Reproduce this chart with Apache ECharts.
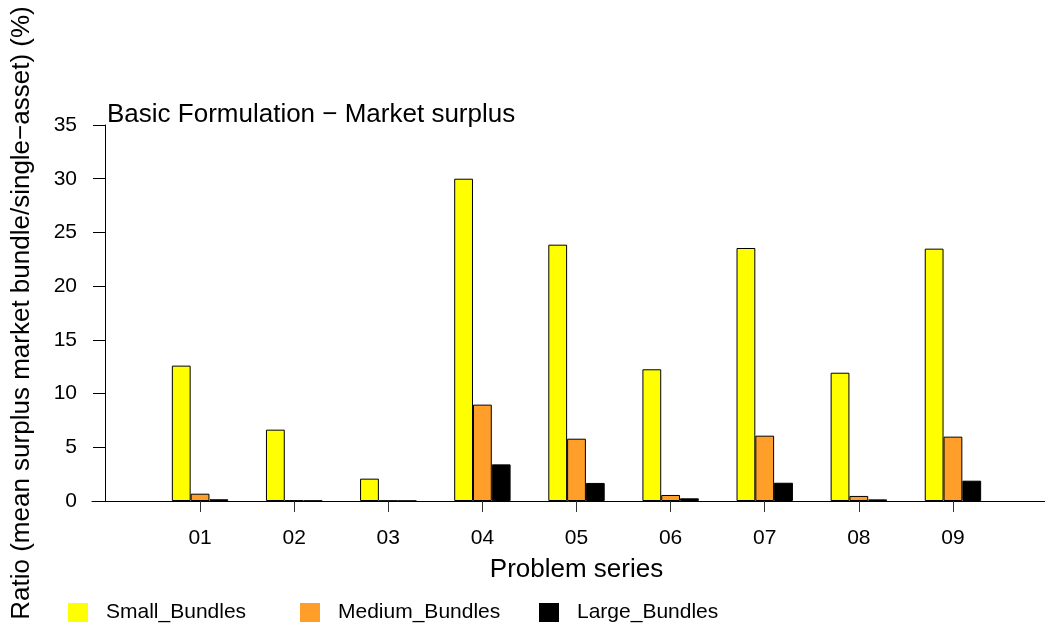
<!DOCTYPE html>
<html>
<head>
<meta charset="utf-8">
<script src="https://cdn.jsdelivr.net/npm/echarts@6/dist/echarts.min.js"></script>
<style>
  html, body { margin: 0; padding: 0; background: #fff; }
  #chart { width: 1045px; height: 632px; }
</style>
</head>
<body>
<div id="chart"></div>
<script>
// Problem series and mean surplus ratios (%) per bundle size
const categories = ['01', '02', '03', '04', '05', '06', '07', '08', '09'];
const smallBundles  = [12.6, 6.64, 2.08, 30.0, 23.86, 12.26, 23.55, 11.94, 23.49];
const mediumBundles = [0.68, 0.05, 0.03, 8.97, 5.80, 0.56, 6.08, 0.47, 5.99];
const largeBundles  = [0.16, 0.03, 0.02, 3.41, 1.68, 0.25, 1.70, 0.15, 1.89];
const seriesNames = ['Small_Bundles', 'Medium_Bundles', 'Large_Bundles'];
const seriesColors = ['#FFFF00', '#FF9F2A', '#000000'];
const yTicks = { min: 0, max: 35, interval: 5 };

const FONT = '"Liberation Sans", Arial, Helvetica, sans-serif';

function barSeries(name, data, color) {
  return {
    name: name,
    type: 'bar',
    xAxisIndex: 0,
    yAxisIndex: 0,
    data: data,
    barWidth: 18.8,
    barGap: '0%',
    itemStyle: { color: color, borderColor: '#000', borderWidth: 1 },
    emphasis: { disabled: true }
  };
}

function legendAt(left, name) {
  return {
    left: left,
    top: 597,
    data: [name],
    icon: 'rect',
    itemWidth: 20,
    itemHeight: 19,
    itemStyle: { borderWidth: 0 },
    selectedMode: false,
    textStyle: { fontFamily: FONT, fontSize: 21, color: '#000', padding: [0, 0, 0, 13] }
  };
}

const chart = echarts.init(document.getElementById('chart'), null, { renderer: 'canvas' });
chart.setOption({
  animation: false,
  backgroundColor: '#fff',
  title: {
    text: 'Basic Formulation \u2212 Market surplus',
    left: 102,
    top: 97,
    textStyle: { fontFamily: FONT, fontSize: 26, fontWeight: 'normal', color: '#000' }
  },
  legend: [
    legendAt(63, seriesNames[0]),
    legendAt(295, seriesNames[1]),
    legendAt(534, seriesNames[2])
  ],
  grid: [
    { left: 153, right: 45, top: 125, bottom: 131 },
    // baseline running across the whole plotting band
    { left: 92, right: 0, top: 125, bottom: 131 }
  ],
  xAxis: [
    {
      type: 'category',
      gridIndex: 0,
      data: categories,
      name: 'Problem series',
      nameLocation: 'middle',
      nameGap: 56,
      nameTextStyle: { fontFamily: FONT, fontSize: 26, color: '#000' },
      axisLine: { show: false },
      axisTick: { show: true, alignWithLabel: true, length: 11, lineStyle: { color: '#333', width: 1 } },
      axisLabel: { fontFamily: FONT, fontSize: 21, color: '#000', margin: 27 },
      splitLine: { show: false }
    },
    {
      type: 'value',
      gridIndex: 1,
      min: 0,
      max: 1,
      axisLine: { show: true, lineStyle: { color: '#000', width: 1 } },
      axisTick: { show: false },
      axisLabel: { show: false },
      splitLine: { show: false }
    }
  ],
  yAxis: [
    {
      type: 'value',
      gridIndex: 0,
      min: yTicks.min,
      max: yTicks.max,
      interval: yTicks.interval,
      offset: 48,
      name: 'Ratio (mean surplus market bundle/single\u2212asset) (%)',
      nameLocation: 'middle',
      nameRotate: 90,
      nameGap: 70,
      nameTextStyle: { fontFamily: FONT, fontSize: 26, color: '#000' },
      axisLine: { show: true, lineStyle: { color: '#000', width: 1 } },
      axisTick: { show: true, length: 12, lineStyle: { color: '#000', width: 1 } },
      axisLabel: { fontFamily: FONT, fontSize: 21, color: '#000', margin: 28 },
      splitLine: { show: false }
    },
    {
      type: 'value',
      gridIndex: 1,
      min: 0,
      max: 1,
      show: false
    }
  ],
  series: [
    barSeries(seriesNames[0], smallBundles, seriesColors[0]),
    barSeries(seriesNames[1], mediumBundles, seriesColors[1]),
    barSeries(seriesNames[2], largeBundles, seriesColors[2])
  ]
});
</script>
</body>
</html>
